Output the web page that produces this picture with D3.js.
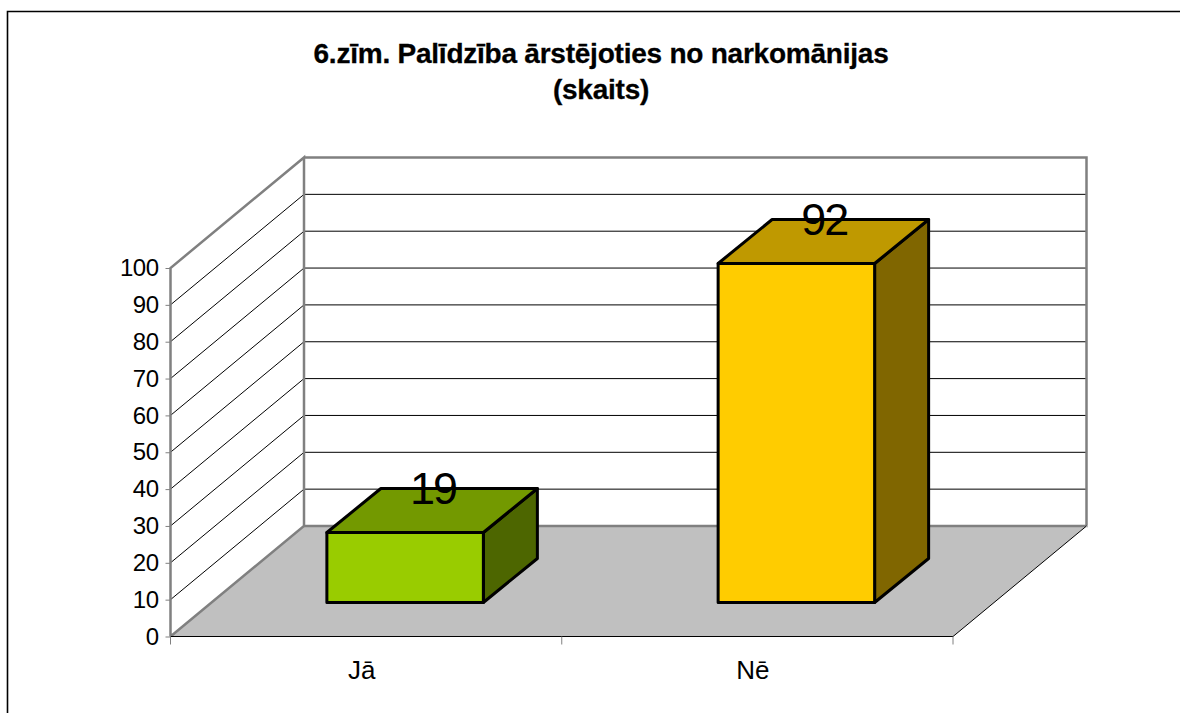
<!DOCTYPE html>
<html>
<head>
<meta charset="utf-8">
<script src="https://cdn.jsdelivr.net/npm/d3@7"></script>
<style>
    html, body { margin: 0; padding: 0; background: #fff; }
    svg { display: block; }
    text { font-family: "Liberation Sans", Arial, sans-serif; fill: #000; }
</style>
</head>
<body>
<svg></svg>
<script>
const titleLines = ["6.zīm. Palīdzība ārstējoties no narkomānijas", "(skaits)"];
const categories = ["Jā", "Nē"];
const values = [19, 92];
const yTicks = [0, 10, 20, 30, 40, 50, 60, 70, 80, 90, 100];
const frontColors = ["#99cc00", "#ffcc00"];
const topColors = ["#739900", "#bf9900"];
const sideColors = ["#4d6600", "#806600"];

const svg = d3.select("svg").attr("width", 1180).attr("height", 713);

const y = d3.scaleLinear().domain([0, 100]).range([636.5, 268]);
const x = d3.scaleBand().domain(categories).range([170.5, 953]).paddingInner(0.6).paddingOuter(0.3);

// offset of the back wall, of the bar front and of the bar depth
const wall = { dx: 133.5, dy: -110.5 };
const barFront = { dx: 39, dy: -34 };
const barDepth = { dx: 54, dy: -44 };

const pts = (arr) => arr.map((p) => p.join(",")).join(" ");

// chart frame, cut off on the right and at the bottom
svg.append("path")
    .attr("d", "M7.5,713V11.5H1180")
    .attr("fill", "none")
    .attr("stroke", "#000")
    .attr("stroke-width", 1.6);

// title
svg.selectAll(".title").data(titleLines).join("text")
    .attr("class", "title")
    .attr("x", 601)
    .attr("y", (d, i) => 63 + i * 36)
    .attr("text-anchor", "middle")
    .attr("font-size", 28)
    .attr("letter-spacing", -0.23)
    .attr("font-weight", "bold")
    .attr("stroke", "#000")
    .attr("stroke-width", 0.3)
    .text((d) => d);

const x0 = x.range()[0], x1 = x.range()[1];

// floor
svg.append("polygon")
    .attr("points", pts([[x0, y(0)], [x0 + wall.dx, y(0) + wall.dy], [x1 + wall.dx, y(0) + wall.dy], [x1, y(0)]]))
    .attr("fill", "#c0c0c0");

// gridlines on both walls
svg.append("g").selectAll("line.back").data(yTicks.slice(1)).join("line")
    .attr("x1", x0 + wall.dx).attr("x2", x1 + wall.dx)
    .attr("y1", (d) => y(d) + wall.dy).attr("y2", (d) => y(d) + wall.dy)
    .attr("stroke", "#000").attr("stroke-width", 1);
svg.append("g").selectAll("line.side").data(yTicks.slice(1)).join("line")
    .attr("x1", x0).attr("x2", x0 + wall.dx)
    .attr("y1", (d) => y(d)).attr("y2", (d) => y(d) + wall.dy)
    .attr("stroke", "#000").attr("stroke-width", 1);

// wall outlines
svg.append("path")
    .attr("d", `M${x0},${y(0)}V${y(100)}L${x0 + wall.dx},${y(100) + wall.dy}V${y(0) + wall.dy}L${x0},${y(0)}`)
    .attr("fill", "none").attr("stroke", "#808080").attr("stroke-width", 2.5);
svg.append("path")
    .attr("d", `M${x0 + wall.dx},${y(100) + wall.dy}H${x1 + wall.dx}V${y(0) + wall.dy}H${x0 + wall.dx}`)
    .attr("fill", "none").attr("stroke", "#808080").attr("stroke-width", 2.5);

// floor front edges, black with a thin white edge below
svg.append("path")
    .attr("d", `M${x0},${y(0) + 1}H${x1 + 1}L${x1 + wall.dx + 1},${y(0) + wall.dy}`)
    .attr("fill", "none").attr("stroke", "#fff").attr("stroke-width", 1);
svg.append("path")
    .attr("d", `M${x0},${y(0)}H${x1}L${x1 + wall.dx},${y(0) + wall.dy}`)
    .attr("fill", "none").attr("stroke", "#000").attr("stroke-width", 1);

// y axis
const yAxis = svg.append("g")
    .attr("transform", `translate(${x0},0)`)
    .call(d3.axisLeft(y).tickValues(yTicks).tickSize(5).tickPadding(7));
yAxis.select(".domain").remove();
yAxis.selectAll("line").attr("stroke", "#808080");
yAxis.selectAll("text")
    .attr("font-size", 24)
    .attr("font-family", "Liberation Sans")
    .attr("letter-spacing", -0.5)
    .attr("dy", "0.32em");

// x axis ticks
svg.append("g").selectAll("line").data(d3.range(categories.length + 1)).join("line")
    .attr("x1", (d) => x0 + d * x.step()).attr("x2", (d) => x0 + d * x.step())
    .attr("y1", y(0)).attr("y2", y(0) + 8)
    .attr("stroke", "#808080");
svg.selectAll(".cat").data(categories).join("text")
    .attr("class", "cat")
    .attr("x", (d) => x(d) + x.bandwidth() / 2 - 4.5)
    .attr("y", 679)
    .attr("text-anchor", "middle")
    .attr("font-size", 26)
    .text((d) => d);

// bars
const bars = svg.append("g").selectAll("g").data(values).join("g")
    .attr("stroke", "#000").attr("stroke-width", 3).attr("stroke-linejoin", "round");

const barLeft = (i) => x(categories[i]) + barFront.dx;
const barRight = (i) => barLeft(i) + x.bandwidth();
const barBase = y(0) + barFront.dy;
const barTop = (v) => barBase - (y(0) - y(v));

bars.append("polygon")
    .attr("fill", (d, i) => sideColors[i])
    .attr("points", (d, i) => pts([
        [barRight(i), barTop(d)], [barRight(i) + barDepth.dx, barTop(d) + barDepth.dy],
        [barRight(i) + barDepth.dx, barBase + barDepth.dy], [barRight(i), barBase]]));
bars.append("polygon")
    .attr("fill", (d, i) => topColors[i])
    .attr("points", (d, i) => pts([
        [barLeft(i), barTop(d)], [barLeft(i) + barDepth.dx, barTop(d) + barDepth.dy],
        [barRight(i) + barDepth.dx, barTop(d) + barDepth.dy], [barRight(i), barTop(d)]]));
bars.append("rect")
    .attr("fill", (d, i) => frontColors[i])
    .attr("x", (d, i) => barLeft(i))
    .attr("y", (d) => barTop(d))
    .attr("width", x.bandwidth())
    .attr("height", (d) => barBase - barTop(d));

// data labels
svg.selectAll(".label").data(values).join("text")
    .attr("class", "label")
    .attr("x", (d, i) => barLeft(i) + x.bandwidth() / 2 + 28)
    .attr("y", (d) => barTop(d) - 28)
    .attr("text-anchor", "middle")
    .attr("font-size", 45)
    .attr("letter-spacing", -2)
    .text((d) => d);
</script>
</body>
</html>
